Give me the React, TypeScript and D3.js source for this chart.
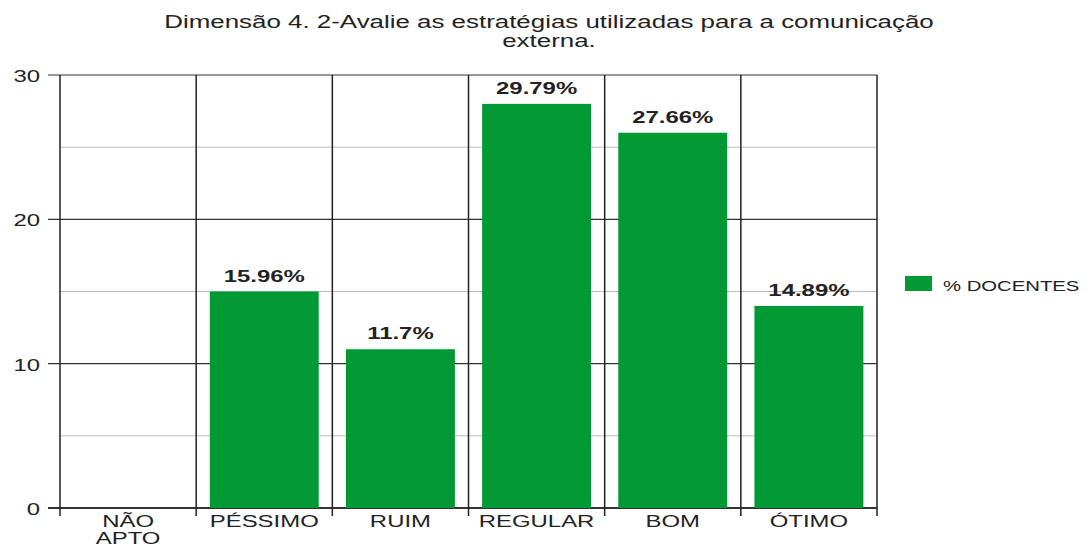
import React from "react";
import * as d3 from "d3";

const categories = ["NÃO APTO", "PÉSSIMO", "RUIM", "REGULAR", "BOM", "ÓTIMO"];
const barValues = [0, 15, 11, 28, 26, 14];
const barLabels = ["", "15.96%", "11.7%", "29.79%", "27.66%", "14.89%"];
const yTicks = [0, 10, 20, 30];
const yMinor = [5, 15, 25];
const seriesName = "% DOCENTES";
const titleLines = ["Dimensão 4. 2-Avalie as estratégias utilizadas para a comunicação", "externa."];

const W = 1091, H = 548;
const left = 60, right = 877, top = 75, bottom = 508;
const green = "#009933";
const font = "'Liberation Sans', Arial, sans-serif";
const SX = 1.45;

function T(props: { x: number; y: number; size: number; anchor?: string; bold?: boolean; children: React.ReactNode; sx?: number }) {
  const { x, y, size, anchor = "start", bold, children, sx = SX } = props;
  return (
    <text
      transform={`translate(${x},${y}) scale(${sx},1)`}
      textAnchor={anchor}
      fontSize={size}
      fontWeight={bold ? "bold" : "normal"}
      fill="#222"
    >
      {children}
    </text>
  );
}

export default function App() {
  const x = d3.scaleBand<string>().domain(categories).range([left, right]).paddingInner(0).paddingOuter(0);
  const y = d3.scaleLinear().domain([0, 30]).range([bottom, top]);
  const inset = x.bandwidth() * 0.1;
  return (
    <svg width={W} height={H} style={{ position: "absolute", left: 0, top: 0, background: "#fff" }} fontFamily={font}>
      <rect width={W} height={H} fill="#fff" />
      {titleLines.map((t, i) => (
        <T key={i} x={549} y={28 + i * 19} size={17.5} anchor="middle" sx={1.48}>{t}</T>
      ))}
      {yMinor.map((v) => (
        <line key={v} x1={left} x2={right} y1={y(v)} y2={y(v)} stroke="#bbb" strokeWidth={1} />
      ))}
      {yTicks.map((v) => (
        <g key={v}>
          <line x1={left - 12} x2={right} y1={y(v)} y2={y(v)} stroke="#333" strokeWidth={v === 0 ? 2 : 1.2} />
          <T x={left - 20} y={y(v) + 7} size={16.5} anchor="end">{v}</T>
        </g>
      ))}
      {categories.map((c) => (
        <line key={c} x1={x(c)!} x2={x(c)!} y1={top} y2={bottom + 8} stroke="#222" strokeWidth={1.5} />
      ))}
      <line x1={right} x2={right} y1={top} y2={bottom + 8} stroke="#222" strokeWidth={1.5} />
      {categories.map((c, i) => (
        <g key={c}>
          {barValues[i] > 0 && (
            <rect x={x(c)! + inset} y={y(barValues[i])} width={x.bandwidth() - 2 * inset} height={y(0) - y(barValues[i])} fill={green} />
          )}
          {barLabels[i] && (
            <T x={x(c)! + x.bandwidth() / 2} y={y(barValues[i]) - 10} size={16.5} anchor="middle" bold>{barLabels[i]}</T>
          )}
          {c.split(" ").map((w, j) => (
            <T key={j} x={x(c)! + x.bandwidth() / 2} y={527 + j * 16.5} size={16.5} anchor="middle">{w}</T>
          ))}
        </g>
      ))}
      <rect x={905} y={276} width={27} height={15} fill={green} />
      <T x={943} y={291} size={14}>{seriesName}</T>
    </svg>
  );
}
